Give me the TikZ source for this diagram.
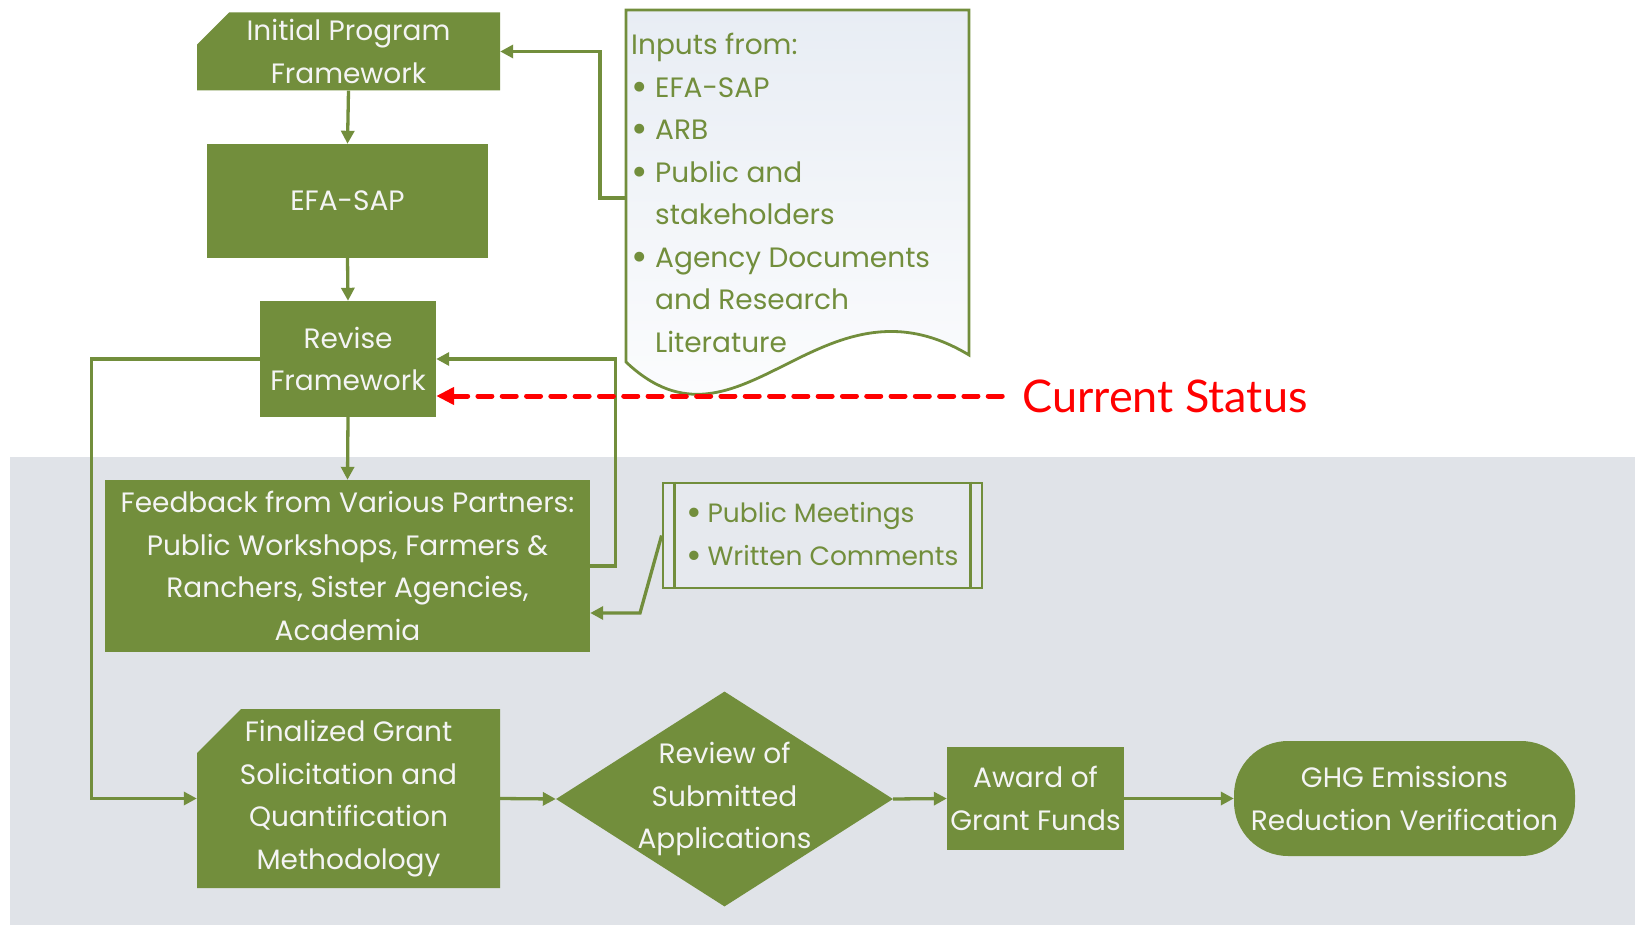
\documentclass[tikz,border=0pt]{standalone}
\usepackage{fontspec}
\setmainfont{Poppins}
\newfontfamily\gillfont{Lato}
\usetikzlibrary{arrows.meta,shapes.geometric,shapes.misc}
\definecolor{gr}{RGB}{114,142,60}
\definecolor{bgg}{RGB}{224,227,232}
\definecolor{txw}{RGB}{244,244,244}
\definecolor{docA}{RGB}{232,237,244}
\definecolor{pubfill}{RGB}{230,233,238}
\newcommand\bulit{\makebox[24pt][l]{{\fontsize{40}{40}\selectfont\raisebox{-3pt}{•}}}}
\newcommand\bulpm{\makebox[21pt][l]{{\fontsize{38}{38}\selectfont\raisebox{-3pt}{•}}}}
\begin{document}
\begin{tikzpicture}[x=1pt,y=-1pt,
  txt/.style={font=\fontsize{28}{42.5}\selectfont},
  box/.style={txt, fill=gr, text=txw, align=center, inner sep=0pt},
  snip/.style={chamfered rectangle, chamfered rectangle corners=north west,
    chamfered rectangle xsep=22pt, chamfered rectangle ysep=22pt, inner sep=-22pt},
  arr/.style={draw=gr, line width=3.3pt, -{Triangle[length=13pt,width=13pt]}},
  gline/.style={draw=gr, line width=2.8pt}]
\useasboundingbox (0,0) rectangle (1635,925);
\fill[white] (0,0) rectangle (1635,925);
\fill[bgg] (10,457) rectangle (1635,925);

% inputs document
\path[gline, top color=docA, bottom color=white]
  (626,10) -- (969,10) -- (969,355)
  .. controls (820,265) and (740,470) .. (626,362) -- cycle;
\node[txt, anchor=north west, align=left, text=gr, inner sep=0pt] (inptxt) at (631,33)
  {Inputs from:\\\bulit EFA-SAP\\\bulit ARB\\\bulit Public and\\\hspace*{24pt}stakeholders\\\bulit Agency Documents\\\hspace*{24pt}and Research\\\hspace*{24pt}Literature};
\coordinate (inpL) at (626,198);

% main nodes
\node[box, snip, minimum width=303pt, minimum height=78pt] (ipf) at (348.5,51.5) {Initial Program\\Framework};
\node[box, minimum width=281pt, minimum height=114pt] (efa) at (347.5,201) {EFA-SAP};
\node[box, minimum width=176pt, minimum height=116pt] (rev) at (348,359) {Revise\\Framework};
\node[box, minimum width=485pt, minimum height=172pt] (fb) at (347.5,566) {Feedback from Various Partners:\\Public Workshops, Farmers \&\\Ranchers, Sister Agencies,\\Academia};
\node[font=\fontsize{26.5}{42.5}\selectfont, draw=gr, line width=2.8pt, fill=pubfill, text=gr, align=left, inner sep=0pt,
  minimum width=319pt, minimum height=105pt] (pub) at (822.5,535.5) {\bulpm Public Meetings\\\bulpm Written Comments};
\draw[gline] ([xshift=13pt]pub.north west) -- ([xshift=13pt]pub.south west);
\draw[gline] ([xshift=-13pt]pub.north east) -- ([xshift=-13pt]pub.south east);

\node[box, snip, minimum width=303pt, minimum height=179pt] (fin) at (348.5,798.5) {Finalized Grant\\Solicitation and\\Quantification\\Methodology};
\node[box, diamond, shape aspect=1.567, inner sep=-30pt, minimum width=337pt, minimum height=215pt] (dia) at (724.5,799) {Review of\\Submitted\\Applications};
\node[box, minimum width=177pt, minimum height=103pt] (awd) at (1035.5,798.5) {Award of\\Grant Funds};
\node[box, rounded corners=54pt, minimum width=341pt, minimum height=115pt] (ghg) at (1404.5,798.5) {GHG Emissions\\Reduction Verification};

\node[text=red, font=\gillfont\fontsize{45}{50}\selectfont, inner sep=0pt] (cs) at (1165,396) {Current Status};

% connectors
\draw[arr] (inpL) -- ++(-26,0) |- (ipf.east);
\draw[arr] (ipf.south) -- (efa.north);
\draw[arr] (efa.south) -- (rev.north);
\draw[arr] (rev.south) -- (fb.north);
\draw[arr] (fb.east) -- ++(25,0) |- (rev.east);
\draw[arr] (rev.west) -- ++(-168,0) |- (fin.west);
\coordinate (bend) at (640,613);
\draw[arr] (pub.west) -- (bend) -- (bend -| fb.east);
\draw[arr] (fin.east) -- (dia.west);
\draw[arr] (dia.east) -- (awd.west);
\draw[arr] (awd.east) -- (ghg.west);
\draw[red, line width=5pt, dash pattern=on 14pt off 10.3pt, line cap=round,
  -{Triangle[length=18pt,width=17pt]}] ([xshift=-20pt]cs.west) -- ([yshift=-37pt]rev.east);
\end{tikzpicture}
\end{document}
